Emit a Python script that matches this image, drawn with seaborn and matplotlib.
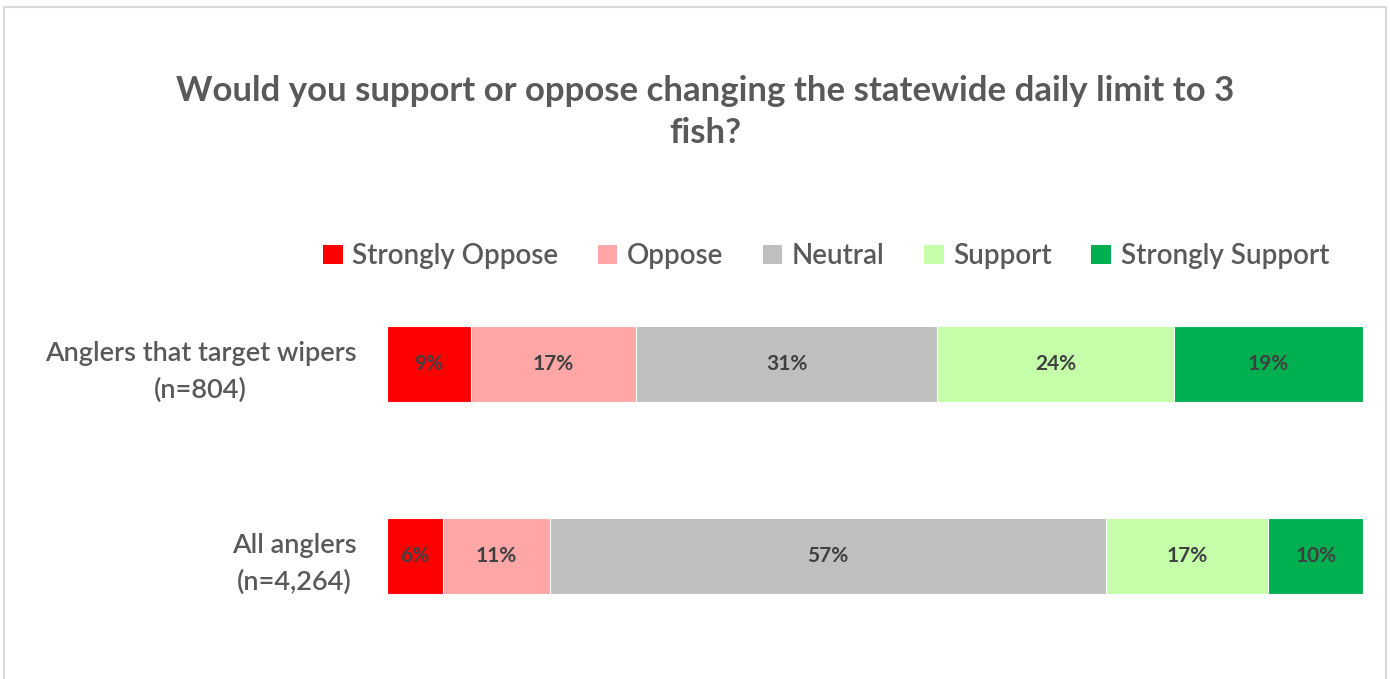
import matplotlib
matplotlib.use("Agg")
import matplotlib.pyplot as plt
from matplotlib.patches import Patch, Rectangle
import numpy as np
import pandas as pd
import seaborn as sns

# Survey results (share of respondents, %)
groups = ["Anglers that target wipers\n(n=804)", "All anglers\n(n=4,264)"]
responses = ["Strongly Oppose", "Oppose", "Neutral", "Support", "Strongly Support"]
wipers = [8.6, 16.9, 30.9, 24.2, 19.4]
all_anglers = [5.7, 11.0, 57.0, 16.6, 9.7]
colors = ["#FF0000", "#FFA7A7", "#BFBFBF", "#C5FFA9", "#00B050"]

title = "Would you support or oppose changing the statewide daily limit to 3\nfish?"

sns.set_theme(style="white")
plt.rcParams["font.family"] = ["Lato", "DejaVu Sans"]
text_col = "#595959"
label_col = "#404040"

df = pd.DataFrame([wipers, all_anglers], columns=responses)
df.insert(0, "group", groups)
cum = df[responses].cumsum(axis=1)

W, H = 1390, 679
fig = plt.figure(figsize=(W / 100, H / 100), dpi=100)
ax = fig.add_axes([387 / W, 1 - 652 / H, 976 / W, 384 / H])

# Stacked bars: draw cumulative totals from the outermost segment inward
for resp, col in reversed(list(zip(responses, colors))):
    sns.barplot(x=cum[resp], y=df["group"], orient="h", color=col,
                width=76 / 192, edgecolor="white", linewidth=0.8,
                saturation=1, ax=ax)

# Segment value labels
for i in range(len(groups)):
    left = 0.0
    for resp in responses:
        v = df.loc[i, resp]
        ax.text(left + v / 2, i, f"{v:.0f}%", ha="center", va="center",
                fontsize=15, fontweight="bold", color=label_col)
        left += v

ax.set_xlim(0, 100)
ax.set_ylim(1.5, -0.5)
ax.set_xlabel("")
ax.set_ylabel("")
ax.set_xticks([])
sns.despine(ax=ax, left=True, bottom=True)
ax.tick_params(axis="y", length=0, pad=22)
for lbl in ax.get_yticklabels():
    lbl.set_fontsize(19.5)
    lbl.set_fontweight("semibold")
    lbl.set_color(text_col)
    lbl.set_multialignment("center")
    lbl.set_linespacing(1.55)

fig.text(705 / W, 1 - 112 / H, title, ha="center", va="center",
         fontsize=25, fontweight="bold", color=text_col, linespacing=1.4)

handles = [Patch(facecolor=c, edgecolor="none", label=r) for r, c in zip(responses, colors)]
leg = fig.legend(handles=handles, loc="center", bbox_to_anchor=(826 / W, 1 - 256 / H),
                 ncol=5, frameon=False, prop={"size": 20, "weight": "semibold"},
                 handlelength=0.7, handleheight=0.7,
                 handletextpad=0.35, columnspacing=1.42, labelcolor=text_col)

# Chart area border
fig.patches.append(Rectangle((4 / W, -0.05), 1382 / W, 1.05 - 7 / H,
                             transform=fig.transFigure, fill=False,
                             edgecolor="#D9D9D9", linewidth=1.5))

fig.savefig("out.png", dpi=100, facecolor="white")
